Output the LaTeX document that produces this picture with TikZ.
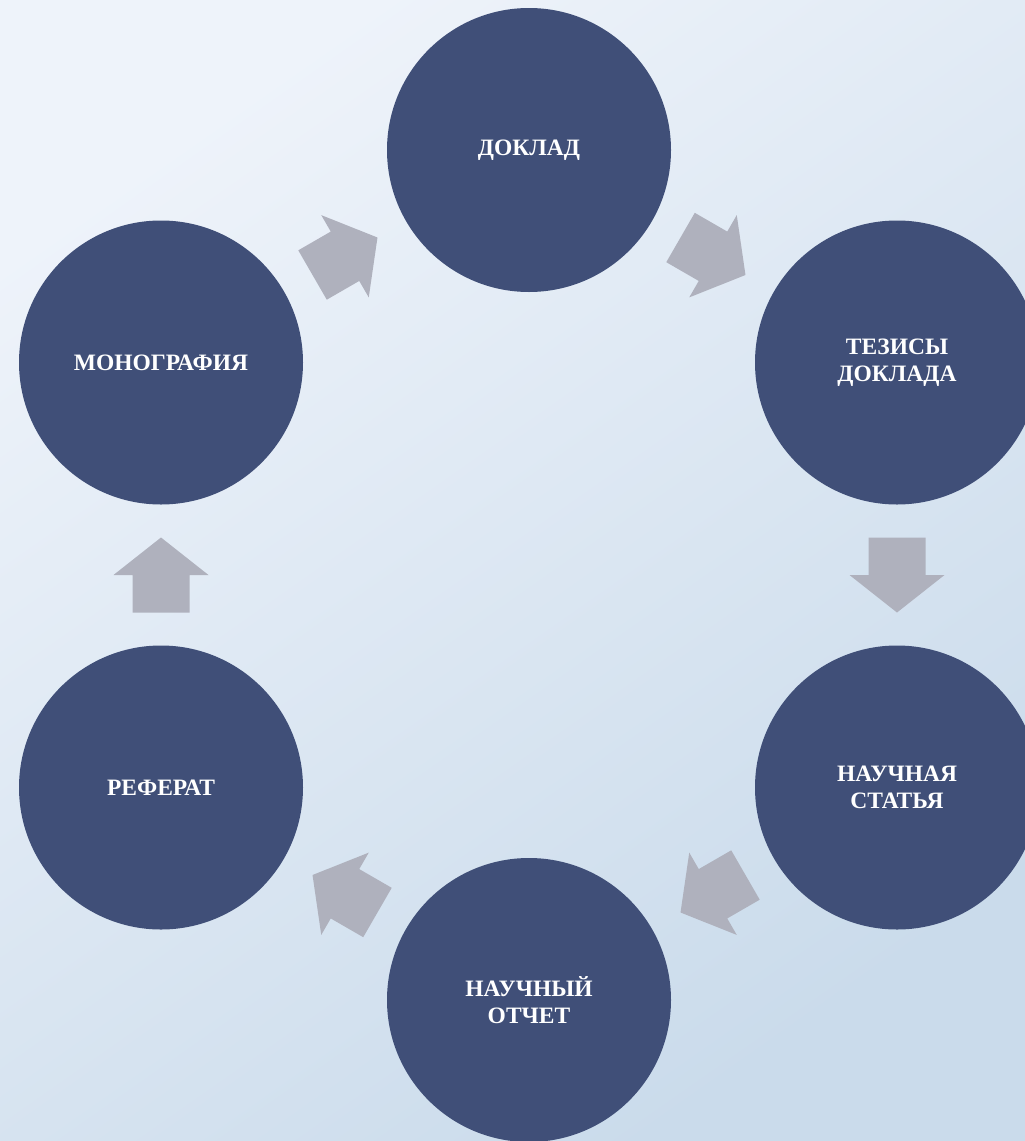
\documentclass[tikz,border=0pt]{standalone}
\usepackage{fontspec}
\setmainfont{Liberation Serif}
\usetikzlibrary{calc}
\definecolor{bgA}{HTML}{EEF3FA}
\definecolor{bgB}{HTML}{CADBEB}
\definecolor{disc}{HTML}{404F78}
\definecolor{arr}{HTML}{AFB1BD}
\tikzset{
  stage/.style={circle, fill=disc, minimum size=284pt, inner sep=0pt, align=center,
    text=white, font=\bfseries\fontsize{23.5}{26.5}\selectfont},
  blockarrow/.pic={
    \fill[arr] (-37.5pt,-28.5pt) -- (0pt,-28.5pt) -- (0pt,-47.5pt) -- (37.5pt,0pt)
      -- (0pt,47.5pt) -- (0pt,28.5pt) -- (-37.5pt,28.5pt) -- cycle;
  }
}
\begin{document}
\begin{tikzpicture}[x=1pt,y=-1pt]
\useasboundingbox (0,0) rectangle (1025,1141);
\shade[top color=bgA, bottom color=bgB, shading angle=35] (0,0) rectangle (1025,1141);
\begin{scope}
\clip (0,0) rectangle (1025,1141);
\node[stage] (dok) at (529,150) {ДОКЛАД};
\node[stage] (tez) at (897,362.5) {ТЕЗИСЫ\\ДОКЛАДА};
\node[stage] (stat) at (897,787.5) {НАУЧНАЯ\\СТАТЬЯ};
\node[stage] (otch) at (529,1000) {НАУЧНЫЙ\\ОТЧЕТ};
\node[stage] (ref) at (161,787.5) {РЕФЕРАТ};
\node[stage] (mono) at (161,362.5) {МОНОГРАФИЯ};
\end{scope}
\pic[rotate=30] at ($(mono)!0.5!(dok)$) {blockarrow};
\pic[rotate=-30] at ($(dok)!0.5!(tez)$) {blockarrow};
\pic[rotate=-90] at ($(tez)!0.5!(stat)$) {blockarrow};
\pic[rotate=-150] at ($(stat)!0.5!(otch)$) {blockarrow};
\pic[rotate=150] at ($(otch)!0.5!(ref)$) {blockarrow};
\pic[rotate=90] at ($(ref)!0.5!(mono)$) {blockarrow};
\end{tikzpicture}
\end{document}
